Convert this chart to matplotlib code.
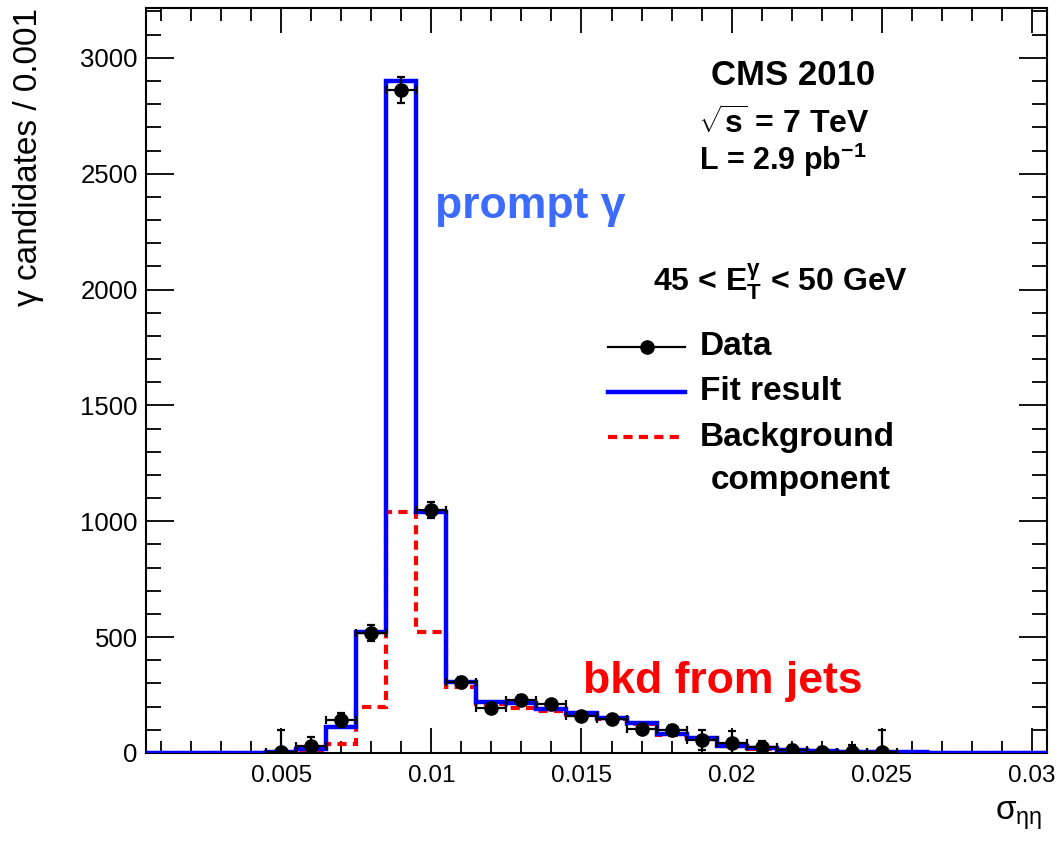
import numpy as np
import matplotlib
matplotlib.use("Agg")
import matplotlib.pyplot as plt

plt.rcParams['font.family'] = ['Liberation Sans', 'DejaVu Sans']
plt.rcParams['mathtext.fontset'] = 'custom'
plt.rcParams['mathtext.rm'] = 'Liberation Sans'
plt.rcParams['mathtext.it'] = 'Liberation Sans'
plt.rcParams['mathtext.bf'] = 'Liberation Sans:bold'
plt.rcParams['mathtext.default'] = 'regular'

# ----------------------------
# histogram: sigma_ietaieta, bins of 0.001
# ----------------------------
edges = np.round(np.arange(0.0005, 0.0306, 0.001), 4)

# fit result (signal + background), one value per bin (centres 0.001 .. 0.030)
fit = [0, 0, 0, 0, 4, 17, 112, 522, 2900, 1038, 307, 221, 217, 188, 172,
       150, 128, 81, 63, 30, 20, 13, 8, 6, 4, 3, 2, 1, 1, 0]
# background component (jets)
bkg = [0, 0, 0, 0, 1, 3, 39, 198, 1040, 522, 285, 212, 196, 180, 166,
       146, 125, 79, 62, 29, 19, 12, 7, 5, 3, 2, 1, 1, 0, 0]

# data points
data_x = [0.005, 0.006, 0.007, 0.008, 0.009, 0.010, 0.011, 0.012, 0.013, 0.014,
          0.015, 0.016, 0.017, 0.018, 0.019, 0.020, 0.021, 0.022, 0.023, 0.024, 0.025]
data_y = [4, 30, 143, 518, 2862, 1047, 305, 195, 228, 210,
          160, 147, 104, 99, 56, 45, 26, 13, 6, 6, 6]
data_err = [95, 40, 30, 35, 55, 35, 25, 20, 22, 20,
            18, 18, 15, 20, 45, 52, 25, 20, 20, 30, 95]

xticks = [0.005, 0.01, 0.015, 0.02, 0.025, 0.03]
xtick_labels = ['0.005', '0.01', '0.015', '0.02', '0.025', '0.03']
yticks = [0, 500, 1000, 1500, 2000, 2500, 3000]

fig = plt.figure(figsize=(10.58, 8.41), dpi=100)
ax = fig.add_axes([146 / 1058, 88 / 841, 901 / 1058, 745 / 841])

ax.stairs(bkg, edges, baseline=None, color='#ff0000', linewidth=3.0,
          linestyle=(0, (2.2, 1.5)), zorder=2)
ax.stairs(fit, edges, baseline=None, color='#0000ff', linewidth=3.2, zorder=3)
ax.errorbar(data_x, data_y, xerr=0.0005, yerr=data_err, fmt='o', color='black',
            markersize=9.5, elinewidth=1.6, capsize=3, capthick=1.6, zorder=4)

ax.set_xlim(0.0005, 0.0305)
ax.set_ylim(0, 3215)
ax.set_xticks(xticks, xtick_labels)
ax.set_xticks(np.arange(0.001, 0.0305, 0.001), minor=True)
ax.set_yticks(yticks)
ax.set_yticks(np.arange(0, 3201, 100), minor=True)

ax.tick_params(which='both', direction='in', top=True, right=True, width=1.3)
ax.tick_params(axis='x', which='major', length=18, pad=9, labelsize=17.5)
ax.tick_params(axis='x', which='minor', length=9)
ax.tick_params(axis='y', which='major', length=20, pad=6, labelsize=18.5)
ax.tick_params(axis='y', which='minor', length=11)
for s in ax.spines.values():
    s.set_linewidth(1.5)

ax.set_ylabel('γ candidates / 0.001', fontsize=24, loc='top')
ax.yaxis.set_label_coords(-0.113, 1.0)
ax.set_xlabel(r'$\sigma_{\eta\eta}$', fontsize=24, loc='right')
ax.xaxis.set_label_coords(0.995, -0.062)

# annotations
ax.text(0.718, 0.910, 'CMS 2010', transform=ax.transAxes, ha='center', va='center',
        fontsize=25, fontweight='bold')
ax.text(0.708, 0.844, r'$\sqrt{s}$ = 7 TeV', transform=ax.transAxes, ha='center',
        va='center', fontsize=23, fontweight='bold')
ax.text(0.707, 0.796, r'L = 2.9 pb$^{-1}$', transform=ax.transAxes, ha='center',
        va='center', fontsize=22, fontweight='bold')
ax.text(0.321, 0.718, 'prompt γ', transform=ax.transAxes, ha='left', va='baseline',
        fontsize=32, fontweight='bold', color='#3c6cff')
ax.text(0.485, 0.0805, 'bkd from jets', transform=ax.transAxes, ha='left',
        va='baseline', fontsize=32, fontweight='bold', color='#ff0000')
ax.text(0.563, 0.619, r'45 < E$_{T}^{\gamma}$ < 50 GeV', transform=ax.transAxes,
        ha='left', va='baseline', fontsize=23, fontweight='bold')

# legend drawn by hand to match the ROOT layout
lx0, lx1, tx = 0.513, 0.598, 0.615
fs_leg = 24
ax.plot([lx0, lx1], [0.545, 0.545], color='black', linewidth=1.6,
        transform=ax.transAxes, clip_on=False)
ax.plot([(lx0 + lx1) / 2], [0.545], 'o', color='black', markersize=9.5,
        transform=ax.transAxes, clip_on=False)
ax.plot([lx0, lx1], [0.4846, 0.4846], color='#0000ff', linewidth=3.2,
        transform=ax.transAxes, clip_on=False)
ax.plot([lx0, lx1], [0.424, 0.424], color='#ff0000', linewidth=3.0,
        linestyle=(0, (2.2, 1.5)), transform=ax.transAxes, clip_on=False)
ax.text(tx, 0.545, 'Data', transform=ax.transAxes, va='center', fontsize=fs_leg,
        fontweight='bold')
ax.text(tx, 0.4846, 'Fit result', transform=ax.transAxes, va='center', fontsize=fs_leg,
        fontweight='bold')
ax.text(tx, 0.424, 'Background', transform=ax.transAxes, va='center', fontsize=fs_leg,
        fontweight='bold')
ax.text(0.727, 0.366, 'component', transform=ax.transAxes, ha='center', va='center',
        fontsize=fs_leg, fontweight='bold')

fig.savefig('out.png', dpi=100)
